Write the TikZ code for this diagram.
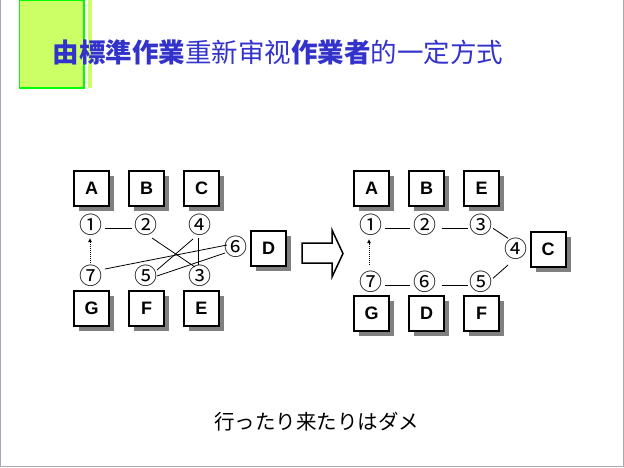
\documentclass[tikz,border=0pt]{standalone}
\usepackage{fontspec}
\setmainfont{Liberation Sans}
\newfontfamily\cjksc{Noto Sans CJK SC}
\newfontfamily\cjkjp{Noto Sans CJK JP}
\usetikzlibrary{shadows,arrows.meta,calc}
\definecolor{titleblue}{RGB}{51,51,204}
\definecolor{limefill}{RGB}{204,255,102}
\definecolor{limeedge}{RGB}{0,255,0}
\definecolor{framegray}{RGB}{168,168,184}
\begin{document}
\begin{tikzpicture}[x=1pt,y=-1pt,
  box/.style={draw, line width=2pt, fill=white, minimum size=35pt, inner sep=0pt,
    font=\bfseries\fontsize{18}{18}\selectfont,
    drop shadow={shadow xshift=5pt, shadow yshift=-5pt, fill=black!50, opacity=1}},
  num/.style={inner sep=0pt, font=\cjkjp\fontsize{23}{23}\selectfont},
  link/.style={line width=0.8pt},
  back/.style={line width=1pt, dash pattern=on 1pt off 1pt, -{Latex[length=4pt,width=4pt]}}
]
\useasboundingbox (0,0) rectangle (624,467);
% frame
\draw[framegray, line width=1.2pt] (0.6,0) -- (0.6,466.2) -- (623.2,466.2) -- (623.2,0);
% decoration
\draw[limeedge, fill=limefill, line width=1.3pt] (19.5,0) rectangle (84,88);
\fill[limefill] (88,0) rectangle (92,88);
% title
\node[font=\cjksc\fontsize{26.5}{26.5}\selectfont, text=titleblue, inner sep=0pt] (title) at (278,52)
  {\textbf{由標準作業}重新审视\textbf{作業者}的一定方式};

% ---------- left diagram ----------
\node[box] (lA) at (91.5,188.5) {A};
\node[box] (lB) at (146.5,188.5) {B};
\node[box] (lC) at (201.5,188.5) {C};
\node[box] (lD) at (268.5,248.5) {D};
\node[box] (lG) at (91.5,308.5) {G};
\node[box] (lF) at (146.5,308.5) {F};
\node[box] (lE) at (201.5,308.5) {E};

\node[num] (l1) at (91.3,224.5) {①};
\node[num] (l2) at (146.3,224.5) {②};
\node[num] (l4) at (200.3,224.5) {④};
\node[num] (l6) at (235.5,246.5) {⑥};
\node[num] (l7) at (91.3,276) {⑦};
\node[num] (l5) at (146.3,276) {⑤};
\node[num] (l3) at (200.3,276) {③};

\draw[link] ($(l1)+(13.7,4)$) -- ($(l2)+(-14.3,4)$);
\draw[link] ($(l2)+(5.7,13.5)$) -- ($(l3)+(-5.3,-9)$);
\draw[link] ($(l4)+(-2,13.5)$) -- ($(l3)+(-2,-11)$);
\draw[link] ($(l4)+(-7.3,14.5)$) -- ($(l5)+(10.7,-6)$);
\draw[link] ($(l6)+(-8.5,-1.5)$) -- ($(l7)+(13.7,-7)$);
\draw[link] ($(l6)+(-10.5,6.5)$) -- ($(l5)+(10.7,0)$);
\draw[back] ($(l7)+(-1.3,-13)$) -- ($(l1)+(-1.3,13.5)$);

% big arrow
\draw[line width=1.5pt, fill=white, line join=miter]
  (302,243) -- (332,243) -- (332,230) -- (343,253.5) -- (332,277) -- (332,263) -- (302,263) -- cycle;

% ---------- right diagram ----------
\node[box] (rA) at (371.5,188.5) {A};
\node[box] (rB) at (426.5,188.5) {B};
\node[box] (rE) at (481.5,188.5) {E};
\node[box] (rC) at (548,249) {C};
\node[box] (rG) at (371.5,313.5) {G};
\node[box] (rD) at (426.5,313.5) {D};
\node[box] (rF) at (481.5,313.5) {F};

\node[num] (r1) at (371.3,225) {①};
\node[num] (r2) at (425,225) {②};
\node[num] (r3) at (480.5,225) {③};
\node[num] (r4) at (516,248.5) {④};
\node[num] (r5) at (480.5,281.5) {⑤};
\node[num] (r6) at (425,281.5) {⑥};
\node[num] (r7) at (371.3,281.5) {⑦};

\draw[link] ($(r1)+(13.7,3.3)$) -- ($(r2)+(-15,3.3)$);
\draw[link] ($(r2)+(16.7,3.3)$) -- ($(r3)+(-12.2,3.3)$);
\draw[link] ($(r3)+(12.5,3.3)$) -- ($(r4)+(-8,-10.2)$);
\draw[link] ($(r4)+(-8,16.5)$) -- ($(r5)+(12.5,-3.2)$);
\draw[link] ($(r7)+(13.7,3.5)$) -- ($(r6)+(-15,3.5)$);
\draw[link] ($(r6)+(16.7,3.5)$) -- ($(r5)+(-12.2,3.5)$);
\draw[back] ($(r7)+(-2.3,-16.5)$) -- ($(r1)+(-2.3,14)$);

% caption
\node[font=\cjkjp\fontsize{20.5}{20.5}\selectfont, inner sep=0pt] (caption) at (316.5,422) {行ったり来たりはダメ};
\end{tikzpicture}
\end{document}
